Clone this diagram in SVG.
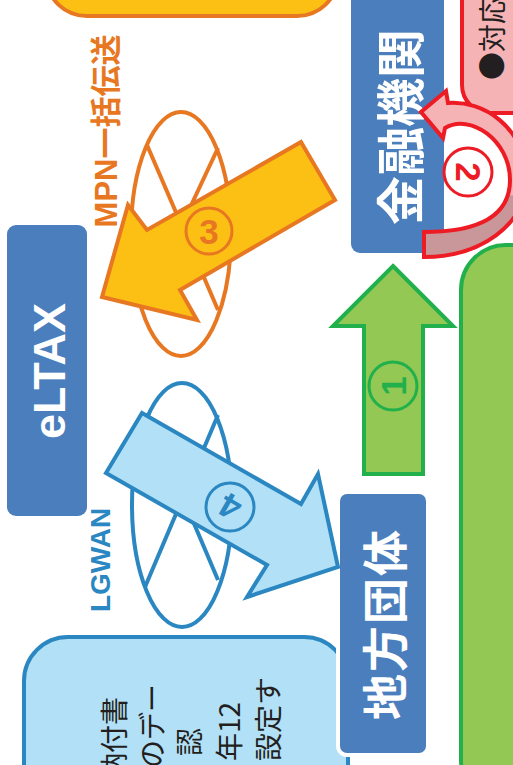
<svg xmlns="http://www.w3.org/2000/svg" width="513" height="765" viewBox="0 0 513 765">
<style>
.cjk{font-family:'Noto Sans CJK JP',sans-serif}
.lat{font-family:'Liberation Sans',Arial,'Noto Sans CJK JP',sans-serif;font-weight:bold}
.box{fill:#4A7EBD}
.wt{fill:#fff;font-weight:bold}
.num{font-family:'Liberation Sans',Arial,sans-serif;font-weight:bold;font-size:35px}
</style>
<defs>
<linearGradient id="g2" gradientUnits="userSpaceOnUse" x1="0" y1="100" x2="0" y2="260">
<stop offset="0" stop-color="#F6B3B6"/><stop offset="0.59" stop-color="#F6B3B6"/><stop offset="0.6" stop-color="#C9969A"/><stop offset="1" stop-color="#C9969A"/>
</linearGradient>
</defs>
<rect width="513" height="765" fill="#fff"/>

<g id="top-box"><rect x="47" y="-60" width="290" height="76" rx="40" fill="#FCC015" stroke="#E87722" stroke-width="4"/></g>

<g id="taiou">
<rect x="462" y="-40" width="90" height="153" rx="28" fill="#F6B3B6" stroke="#ED1C24" stroke-width="4"/>
<text class="cjk" transform="translate(491,80) rotate(-90)" font-size="28" fill="#231F20" dominant-baseline="central">●対応</text>
</g>

<g id="green-box"><rect x="461" y="245" width="100" height="560" rx="45" fill="#92C853" stroke="#21B04B" stroke-width="4"/></g>

<g id="kinyu">
<rect class="box" x="351" y="-10" width="93" height="263" rx="9"/>
<text class="cjk wt" transform="translate(397,127) rotate(-90)" font-size="49" text-anchor="middle" dominant-baseline="central">金融機関</text>
</g>

<g id="eltax">
<rect class="box" x="7" y="225" width="80" height="291" rx="9"/>
<text class="lat" transform="translate(65,371) rotate(-90)" font-size="45" fill="#fff" text-anchor="middle">eLTAX</text>
</g>

<g id="info-box">
<rect x="24" y="637" width="324" height="200" rx="44" fill="#B2E0F6" stroke="#2A87C1" stroke-width="4"/>
<g class="cjk" font-size="28" fill="#231F20" text-anchor="end" dominant-baseline="central">
<text transform="translate(113,697) rotate(-90)">納付書</text>
<text transform="translate(151,684) rotate(-90)">のデー</text>
<text transform="translate(188,728) rotate(-90)">認</text>
<text transform="translate(228,702) rotate(-90)">年12</text>
<text transform="translate(267,677) rotate(-90)">設定す</text>
</g>
</g>

<g id="chiho">
<rect class="box" x="338" y="492" width="90" height="263" rx="9" stroke="#fff" stroke-width="4"/>
<text class="cjk wt" transform="translate(382,624) rotate(-90)" font-size="46" letter-spacing="2" text-anchor="middle" dominant-baseline="central">地方団体</text>
</g>

<g id="mpn-net" fill="#fff" stroke="#E87722" stroke-width="4">
<ellipse cx="181" cy="234" rx="50" ry="122"/>
<path d="M147 145 L218 310 M218 148 L143 308" fill="none"/>
</g>

<g id="lgwan-net" fill="#fff" stroke="#2A87C1" stroke-width="4">
<ellipse cx="182" cy="505" rx="50" ry="122"/>
<path d="M147 413 L218 580 M218 415 L145 587" fill="none"/>
</g>

<g id="connectors" stroke-width="4" stroke-linejoin="miter">
<g id="arrow1">
<polygon points="393,266 453,326 423,326 423,474 364,474 364,326 333,326" fill="#92C853" stroke="#21B04B"/>
<circle cx="393" cy="386" r="24" fill="none" stroke="#21B04B" stroke-width="3"/>
<text class="num" transform="translate(393,386) rotate(-90)" fill="#21B04B" text-anchor="middle" dominant-baseline="central">1</text>
</g>
<g id="arrow2">
<path d="M424 257 C480 257 526 225 526 180 C526 126 482 100 448 103 L446 91 L421 112 L443 138 L445 128 C470 113 510 140 510 180 C510 215 480 232 424 232 Z" fill="url(#g2)" stroke="#ED1C24"/>
<circle cx="468" cy="172" r="24" fill="none" stroke="#ED1C24" stroke-width="3"/>
<text class="num" transform="translate(468,172) rotate(90)" fill="#ED1C24" text-anchor="middle" dominant-baseline="central">2</text>
</g>
<g id="arrow3">
<polygon points="301,142 335,200 180,290 197,320 102,297 128,205 147,230" fill="#FCC015" stroke="#E87722"/>
<circle cx="209" cy="231" r="23" fill="none" stroke="#E87722" stroke-width="3"/>
<text class="num" x="209" y="231" fill="#E87722" text-anchor="middle" dominant-baseline="central">3</text>
<text class="lat" transform="translate(117,131) rotate(-90)" font-size="31" fill="#E87722" text-anchor="middle">MPN一括伝送</text>
</g>
<g id="arrow4">
<polygon points="142,413 301,504 318,474 338,567 247,597 267,565 106,473" fill="#B2E0F6" stroke="#2A87C1"/>
<circle cx="230" cy="507" r="24" fill="none" stroke="#2A87C1" stroke-width="3"/>
<text class="num" transform="translate(230,507) rotate(210)" fill="#2A87C1" text-anchor="middle" dominant-baseline="central">4</text>
<text class="lat" transform="translate(110,560) rotate(-90)" font-size="28" fill="#2A87C1" text-anchor="middle">LGWAN</text>
</g>
</g>
</svg>
